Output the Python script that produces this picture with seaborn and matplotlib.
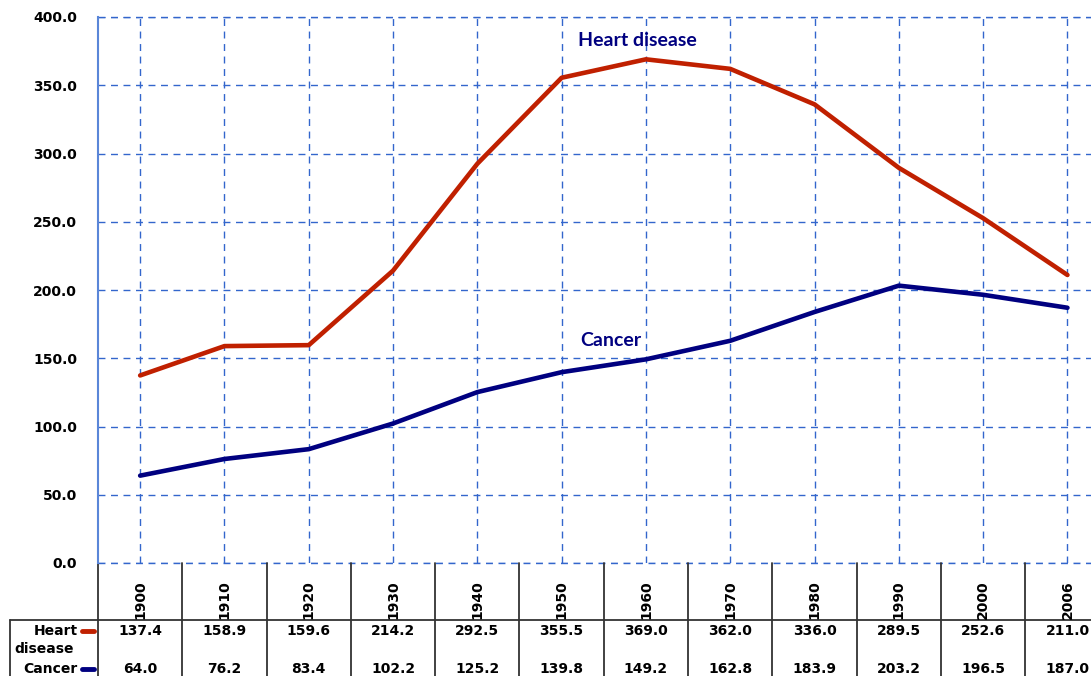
import matplotlib
matplotlib.use("Agg")
import matplotlib.pyplot as plt
import matplotlib.transforms as mtransforms
import pandas as pd
import seaborn as sns

years = ["1900", "1910", "1920", "1930", "1940", "1950", "1960", "1970", "1980", "1990", "2000", "2006"]
heart_disease = [137.4, 158.9, 159.6, 214.2, 292.5, 355.5, 369.0, 362.0, 336.0, 289.5, 252.6, 211.0]
cancer = [64.0, 76.2, 83.4, 102.2, 125.2, 139.8, 149.2, 162.8, 183.9, 203.2, 196.5, 187.0]

HEART_COLOR = "#c02000"
CANCER_COLOR = "#000080"
GRID_COLOR = "#3366cc"

df = pd.DataFrame({"pos": range(len(years)), "year": years,
                   "Heart disease": heart_disease, "Cancer": cancer})
long_df = df.melt(id_vars=["pos", "year"], var_name="cause", value_name="rate")

sns.set_theme(style="white")
plt.rcParams["font.family"] = ["DejaVu Sans"]
plt.rcParams["text.color"] = "black"
plt.rcParams["ytick.color"] = "black"

W, H = 1091, 676
fig = plt.figure(figsize=(W / 100, H / 100), dpi=100)

# plot area in pixels (right side is cut off in the reference)
left_px, top_px, bottom_px = 98, 17, 563
cat_w = 84.3
ax = fig.add_axes([left_px / W, 1 - bottom_px / H, 12 * cat_w / W, (bottom_px - top_px) / H])

sns.lineplot(data=long_df, x="pos", y="rate", hue="cause",
             palette={"Heart disease": HEART_COLOR, "Cancer": CANCER_COLOR},
             linewidth=3.3, legend=False, ax=ax)

ax.set_xlim(-0.5, len(years) - 0.5)
ax.set_ylim(0, 400)
ax.set_xticks(range(len(years)))
ax.set_xticklabels([])
ax.set_yticks(range(0, 401, 50))
ax.set_yticklabels([f"{v:.1f}" for v in range(0, 401, 50)], fontweight="bold", fontsize=10)
ax.tick_params(axis="both", length=0, pad=15)
ax.set_xlabel("")
ax.set_ylabel("")
ax.grid(True, color=GRID_COLOR, linestyle=(0, (5, 4)), linewidth=1)
ax.set_axisbelow(True)
# edge gridlines drawn unclipped so they show in full
for yv in (0, 400):
    ax.axhline(yv, color=GRID_COLOR, linestyle=(0, (5, 4)), linewidth=1, clip_on=False, zorder=0.5)
for side in ["top", "right", "bottom"]:
    ax.spines[side].set_visible(False)
ax.spines["left"].set_color("#5a86d8")
ax.spines["left"].set_linewidth(1.5)

# series labels
ax.text(5.19, 383, "Heart disease", color=CANCER_COLOR, fontsize=14, fontweight="bold",
        family=["Lato", "DejaVu Sans"], ha="left", va="center")
ax.text(5.22, 163, "Cancer", color=CANCER_COLOR, fontsize=14, fontweight="bold",
        family=["Lato", "DejaVu Sans"], ha="left", va="center")

# data table below the chart
def fy(px):
    return 1 - px / H

def fx(px):
    return px / W

blend = mtransforms.blended_transform_factory(ax.transData, fig.transFigure)
line_kw = dict(color="#333333", linewidth=1.3, clip_on=False)

for k in range(len(years) + 1):
    ax.plot([k - 0.5, k - 0.5], [fy(bottom_px), 0], transform=blend, **line_kw)
ax.plot([-0.5, len(years)], [fy(620), fy(620)], transform=blend, **line_kw)
fig.add_artist(plt.Line2D([fx(10), fx(left_px)], [fy(620), fy(620)], **line_kw))
fig.add_artist(plt.Line2D([fx(10), fx(10)], [fy(620), 0], **line_kw))

for i, y in enumerate(years):
    ax.text(i, fy(619), y, rotation=90, ha="center", va="bottom", fontsize=10,
            fontweight="bold", transform=blend)
    ax.text(i, fy(631), f"{heart_disease[i]:.1f}", ha="center", va="center", fontsize=10,
            fontweight="bold", transform=blend)
    ax.text(i, fy(669), f"{cancer[i]:.1f}", ha="center", va="center", fontsize=10,
            fontweight="bold", transform=blend)

fig.text(fx(78), fy(631), "Heart", ha="right", va="center", fontsize=10, fontweight="bold")
fig.text(fx(14), fy(649), "disease", ha="left", va="center", fontsize=10, fontweight="bold")
fig.text(fx(77), fy(669), "Cancer", ha="right", va="center", fontsize=10, fontweight="bold")
fig.add_artist(plt.Line2D([fx(82), fx(94)], [fy(631), fy(631)], color=HEART_COLOR,
                          linewidth=3.5, solid_capstyle="round"))
fig.add_artist(plt.Line2D([fx(82), fx(94)], [fy(669), fy(669)], color=CANCER_COLOR,
                          linewidth=3.5, solid_capstyle="round"))

fig.savefig("out.png", dpi=100)
